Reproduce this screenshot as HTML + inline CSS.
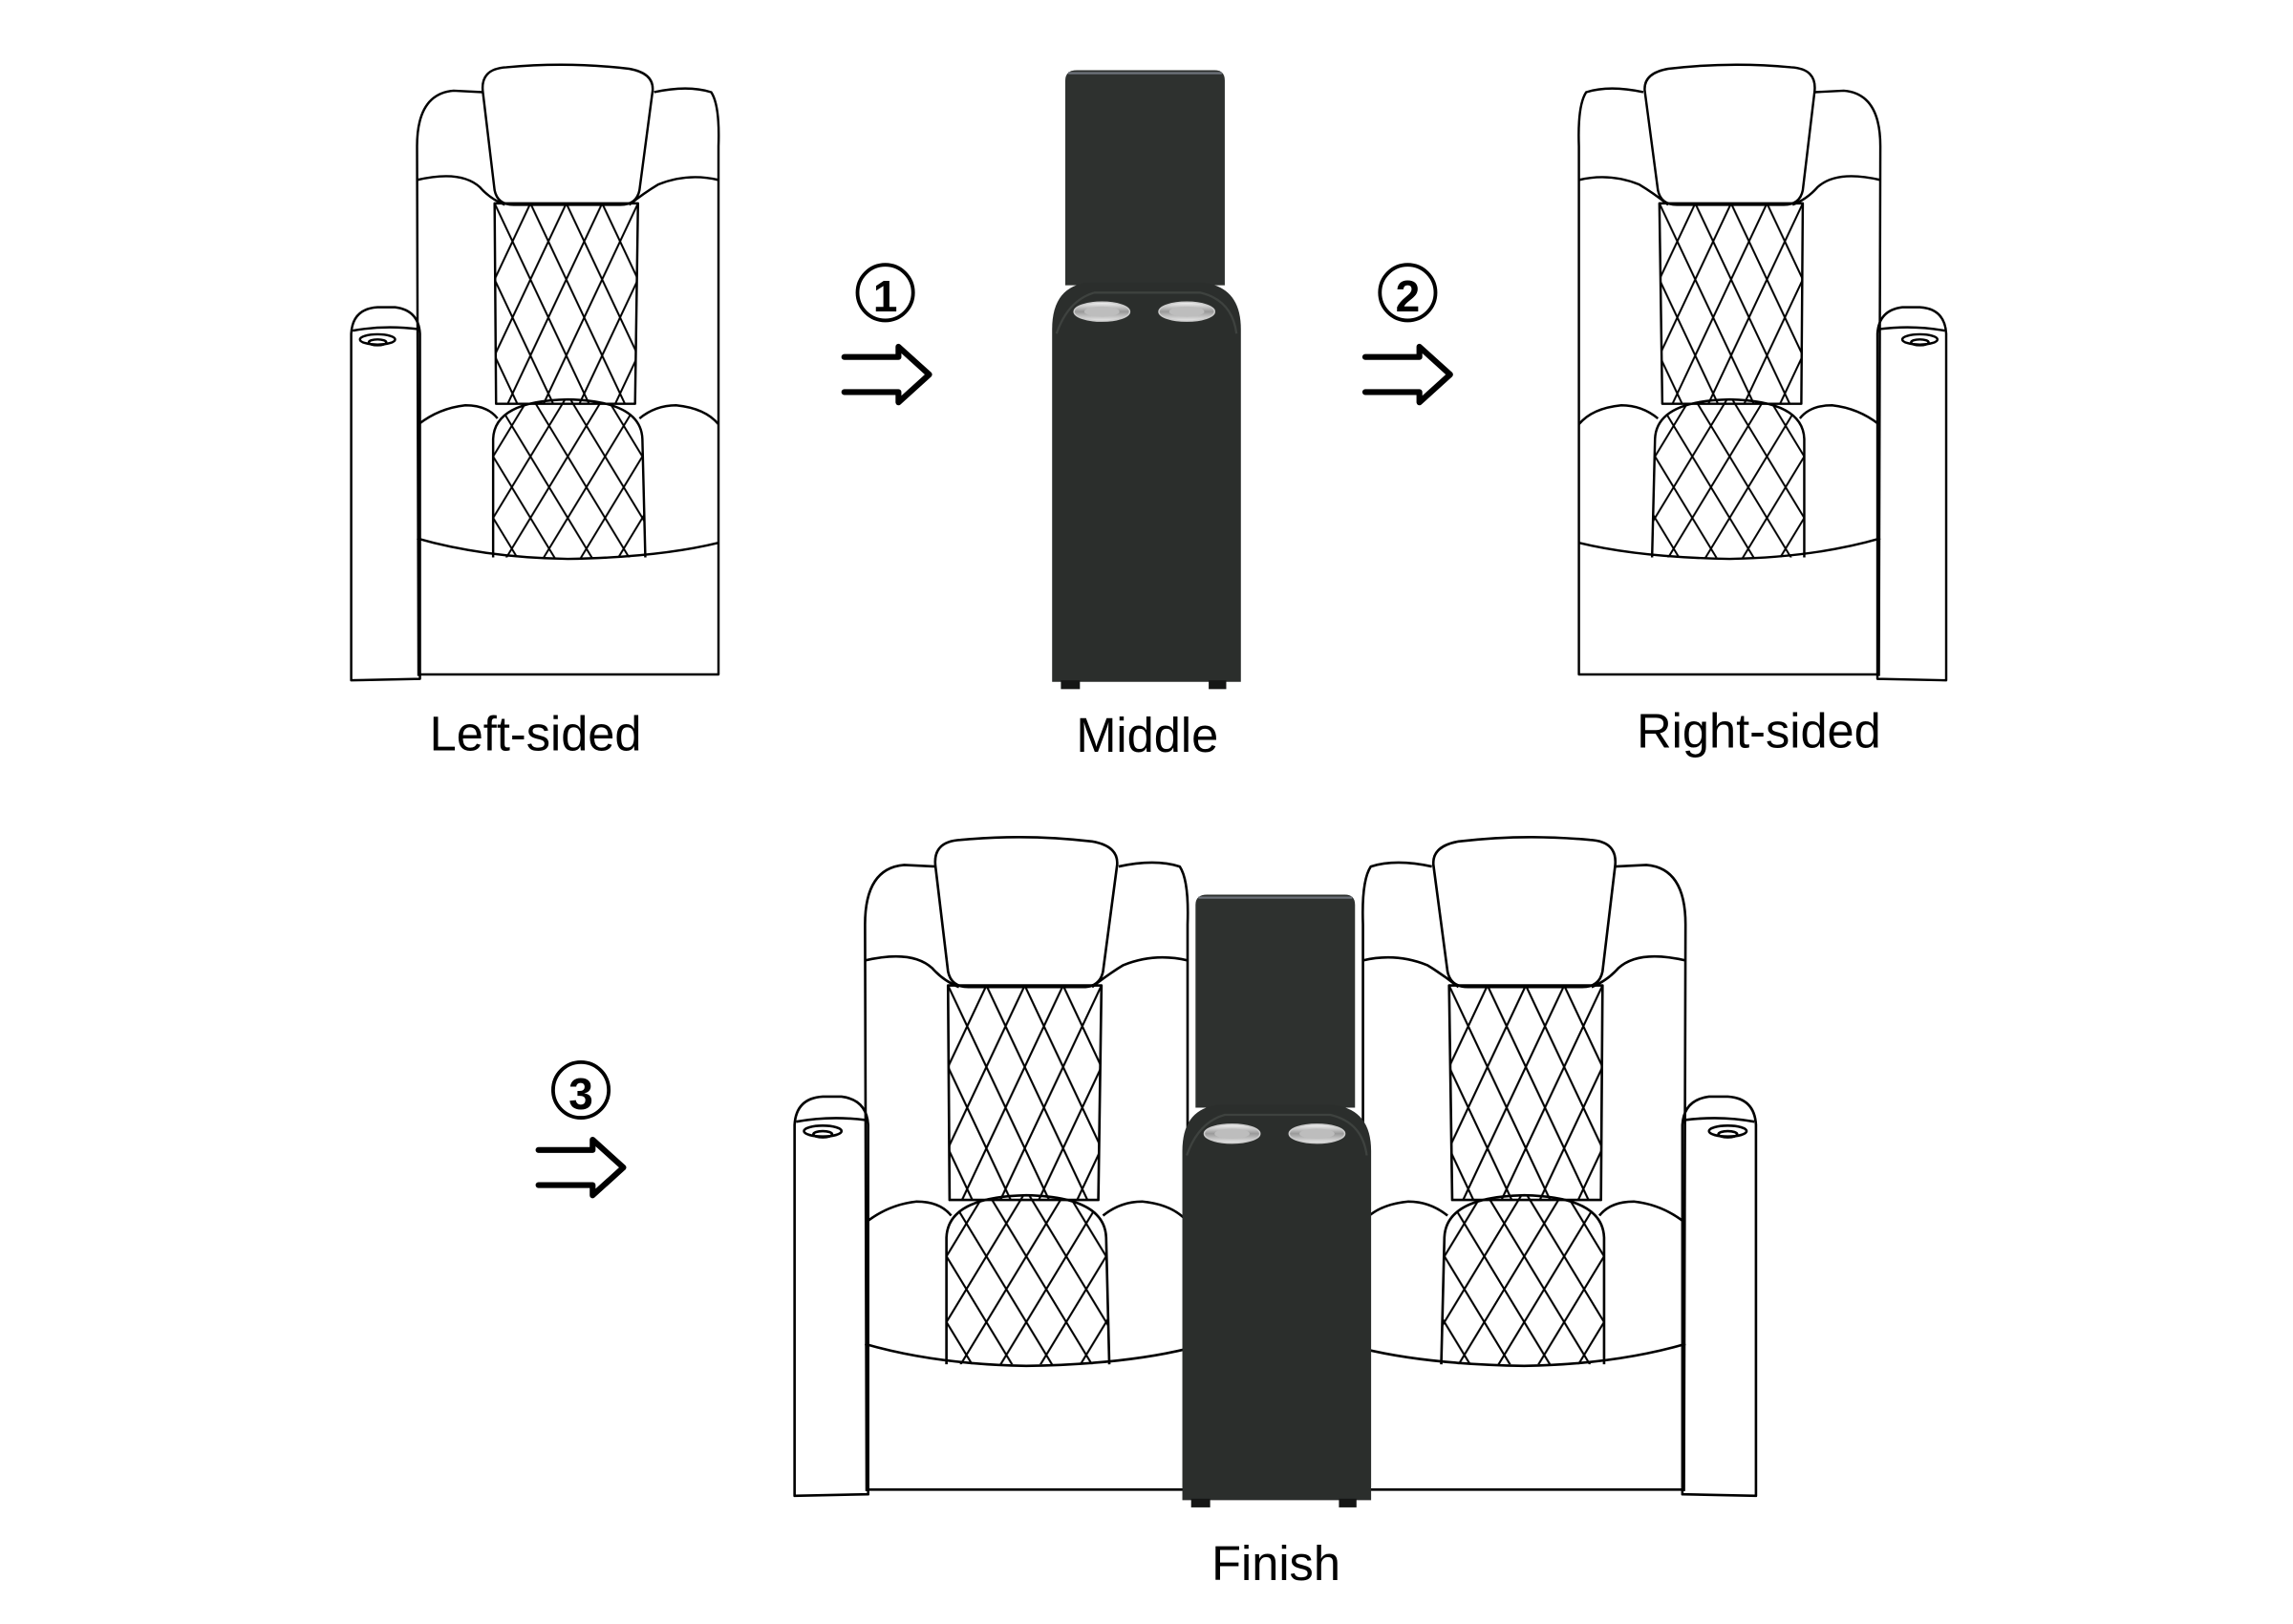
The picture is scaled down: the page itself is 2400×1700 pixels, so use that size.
<!DOCTYPE html>
<html><head><meta charset="utf-8"><style>
html,body{margin:0;padding:0;background:#fff;}
svg{display:block;}
text{font-family:"Liberation Sans",sans-serif;fill:#000;}
</style></head><body>
<svg width="2400" height="1700" viewBox="0 0 1567 1110" preserveAspectRatio="none" xmlns="http://www.w3.org/2000/svg">
<defs>
  <pattern id="dia" patternUnits="userSpaceOnUse" x="338" y="139" width="24.5" height="52">
    <path d="M0,0 L24.5,52 M24.5,0 L0,52" stroke="#000" stroke-width="1.3" fill="none"/>
  </pattern>
  <pattern id="dia2" patternUnits="userSpaceOnUse" x="337" y="270" width="25.5" height="42">
    <path d="M0,0 L25.5,42 M25.5,0 L0,42" stroke="#000" stroke-width="1.3" fill="none"/>
  </pattern>
  <linearGradient id="silver" x1="0" y1="0" x2="0" y2="1">
    <stop offset="0" stop-color="#f4f4f4"/><stop offset="0.5" stop-color="#9a9a9a"/><stop offset="1" stop-color="#e8e8e8"/>
  </linearGradient>
  <g id="chair" fill="none" stroke="#000" stroke-width="1.6" stroke-linejoin="round">
    <path d="M240,465 L240,228 Q241,211 258,210 L270,210 Q286,212 287,228 L287,464 Z" fill="#fff"/>
    <path d="M241,226 Q263,222 286,225"/>
    <ellipse cx="258" cy="232" rx="12" ry="3.5"/>
    <ellipse cx="258" cy="234" rx="6" ry="2"/>
    <path d="M286,462 L285,100 Q285,64 310,62 L330,63"/>
    <path d="M447,63 Q470,58 486,63 Q492,72 491,100 L491,461 L286,461"/>
    <path d="M330,63 Q328,47 346,46 Q388,42 430,47 Q447,50 446,62 L437,130 Q435,140 424,140 L351,140 Q340,140 338,130 Z" fill="#fff"/>
    <path d="M285,123 Q315,116 328,128 Q335,136 345,140"/>
    <path d="M430,140 Q440,132 450,126 Q470,118 491,123"/>
    <path d="M338,139 L436,139 L434,276 L339,276 Z" fill="url(#dia)"/>
    <path d="M286,290 Q300,279 318,277 Q333,277 340,286"/>
    <path d="M437,286 Q448,277 462,277 Q482,279 491,290"/>
    <path d="M337,381 L337,300 Q338,274 388,273 Q438,274 439,300 L441,381" fill="url(#dia2)"/>
    <path d="M285,368 Q330,381 388,382 Q450,381 491,371"/>
  </g>
  <g id="mid">
    <path d="M728,195 L728,55 Q728,48 736,48 L830,48 Q837,48 837,55 L837,195 Z" fill="#2e312f"/>
    <path d="M730,50 L835,50" stroke="#6b7078" stroke-width="1.5"/>
    <path d="M719,466 L719,225 Q719,195 745,193 L820,193 Q848,195 848,225 L848,466 Z" fill="#2b2e2c"/>
    <path d="M722,228 Q730,205 748,200 L820,200 Q842,205 845,228" fill="none" stroke="#3e423f" stroke-width="1.5"/>
    <rect x="725" y="465" width="13" height="6" fill="#151615"/>
    <rect x="826" y="465" width="12" height="6" fill="#151615"/>
    <ellipse cx="753" cy="213" rx="19" ry="6.5" fill="url(#silver)" stroke="#ccc" stroke-width="1"/>
    <ellipse cx="753" cy="213" rx="12" ry="3.5" fill="#bdbdbd"/>
    <ellipse cx="811" cy="213" rx="19" ry="6.5" fill="url(#silver)" stroke="#ccc" stroke-width="1"/>
    <ellipse cx="811" cy="213" rx="12" ry="3.5" fill="#bdbdbd"/>
  </g>
  <g id="step" fill="none" stroke="#000" stroke-width="4" stroke-linecap="round" stroke-linejoin="round">
    <path d="M0,2 L37,2 L37,-5 L58,14 L37,33 L37,26 L0,26"/>
  </g>
</defs>

<use href="#chair"/>
<use href="#mid"/>
<use href="#chair" transform="translate(1570,0) scale(-1,1)"/>

<use href="#chair" transform="translate(543,573) scale(1.07) translate(-240,-45)"/>
<use href="#chair" transform="translate(1200,573) scale(-1.07,1.07) translate(-240,-45)"/>
<use href="#mid" transform="translate(808,612) translate(-719,-48) scale(1,0.99)"/>

<circle cx="605" cy="200" r="19" fill="none" stroke="#000" stroke-width="2.5"/>
<text x="605" y="213" font-size="30" font-weight="bold" text-anchor="middle">1</text>
<use href="#step" transform="translate(577,242)"/>

<circle cx="962" cy="200" r="19" fill="none" stroke="#000" stroke-width="2.5"/>
<text x="962" y="213" font-size="30" font-weight="bold" text-anchor="middle">2</text>
<use href="#step" transform="translate(933,242)"/>

<circle cx="397" cy="745" r="19" fill="none" stroke="#000" stroke-width="2.5"/>
<text x="397" y="758" font-size="30" font-weight="bold" text-anchor="middle">3</text>
<use href="#step" transform="translate(368,784)"/>

<text x="366" y="513" font-size="33" text-anchor="middle">Left-sided</text>
<text x="784" y="514" font-size="33" text-anchor="middle">Middle</text>
<text x="1202" y="511" font-size="33" text-anchor="middle">Right-sided</text>
<text x="872" y="1080" font-size="33" text-anchor="middle">Finish</text>
</svg>
</body></html>
